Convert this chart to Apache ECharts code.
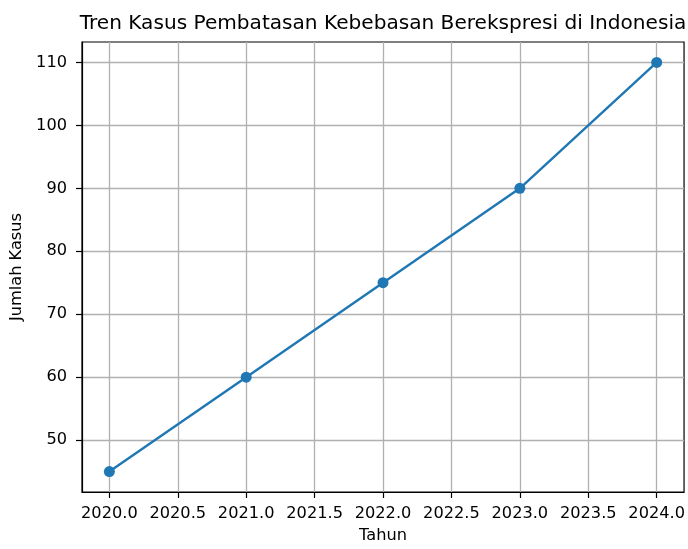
<!DOCTYPE html>
<html>
<head>
<meta charset="utf-8">
<script src="https://cdn.jsdelivr.net/npm/echarts@6/dist/echarts.min.js"></script>
<style>html,body{margin:0;padding:0;background:#fff;overflow:hidden;width:100%;height:100%}#c{width:100vw;height:100vh}</style>
</head>
<body>
<div id="c"></div>
<script>
const years = [2020, 2021, 2022, 2023, 2024];
const cases = [45, 60, 75, 90, 110];
const xTicks = [2020.0, 2020.5, 2021.0, 2021.5, 2022.0, 2022.5, 2023.0, 2023.5, 2024.0];
const yTicks = [50, 60, 70, 80, 90, 100, 110];
const titleText = 'Tren Kasus Pembatasan Kebebasan Berekspresi di Indonesia';
const xName = 'Tahun';
const yName = 'Jumlah Kasus';

const font = 'DejaVu Sans';
const fs = 16.2;
const chart = echarts.init(document.getElementById('c'));
const xPad = (years[years.length-1] - years[0]) * 0.05;
const yMin = Math.min(...cases), yMax = Math.max(...cases);
const yPad = (yMax - yMin) * 0.05;

chart.setOption({
  animation: false,
  backgroundColor: '#fff',
  title: {
    text: titleText,
    left: 383,
    textAlign: 'center',
    top: 14,
    padding: 0,
    textStyle: {fontFamily: font, fontSize: 20.1, fontWeight: 'normal', color: '#000'}
  },
  grid: {left: 82, right: 1, top: 42, bottom: 49.5, show: true, borderColor: '#000', borderWidth: 1.2, backgroundColor: 'transparent'},
  xAxis: {
    type: 'value',
    min: years[0] - xPad,
    max: years[years.length-1] + xPad,
    name: xName,
    nameLocation: 'middle',
    nameGap: 36,
    nameTextStyle: {fontFamily: font, fontSize: fs, color: '#000'},
    axisLine: {show: true, onZero: false, lineStyle: {color: '#000', width: 1.2}},
    axisTick: {show: true, length: 6, customValues: xTicks, lineStyle: {color: '#000', width: 1.2}},
    axisLabel: {customValues: xTicks, margin: 13.5, fontFamily: font, fontSize: fs, color: '#000',
      formatter: v => v.toFixed(1)},
    splitLine: {show: true, lineStyle: {color: '#b0b0b0', width: 1.3}}
  },
  yAxis: {
    type: 'value',
    min: yMin - yPad,
    max: yMax + yPad,
    name: yName,
    nameLocation: 'middle',
    nameGap: 53,
    nameTextStyle: {fontFamily: font, fontSize: fs, color: '#000'},
    axisLine: {show: true, onZero: false, lineStyle: {color: '#000', width: 1.2}},
    axisTick: {show: true, length: 6, customValues: yTicks, lineStyle: {color: '#000', width: 1.2}},
    axisLabel: {customValues: yTicks, margin: 15, fontFamily: font, fontSize: fs, color: '#000',
      formatter: v => String(Math.round(v))},
    splitLine: {show: true, lineStyle: {color: '#b0b0b0', width: 1.3}}
  },
  series: [{
    type: 'line',
    data: years.map((y, i) => [y, cases[i]]),
    symbol: 'circle',
    symbolSize: 11,
    showAllSymbol: true,
    lineStyle: {color: '#1f77b4', width: 2.4},
    itemStyle: {color: '#1f77b4'},
    z: 5
  }]
});
</script>
</body>
</html>
